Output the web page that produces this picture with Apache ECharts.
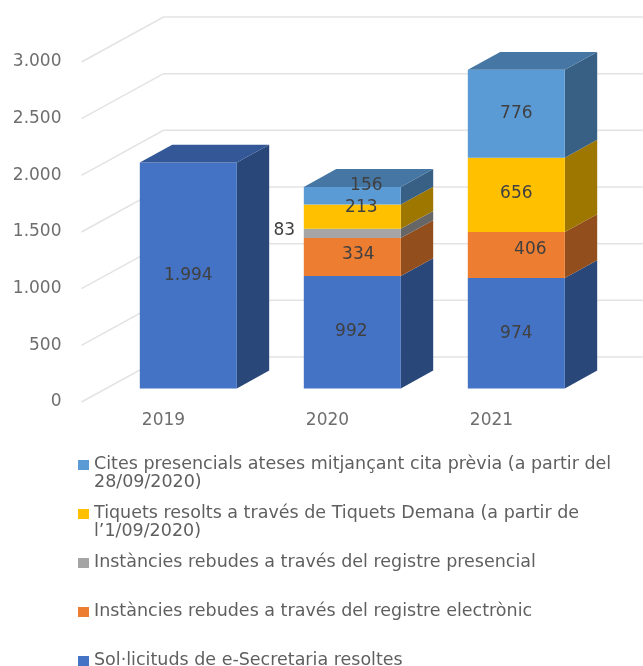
<!DOCTYPE html>
<html>
<head>
<meta charset="utf-8">
<style>
  html, body { margin: 0; padding: 0; background: #fff; }
  #chart { width: 643px; height: 666px; }
</style>
</head>
<body>
<div id="chart"></div>
<script src="https://cdn.jsdelivr.net/npm/echarts@6/dist/echarts.min.js"></script>
<script>
const years = ['2019', '2020', '2021']
const yTicks = [0, 500, 1000, 1500, 2000, 2500, 3000]

const eSecretaria = [1994, 992, 974]
const registreElectronic = [null, 334, 406]
const registrePresencial = [null, 83, null]
const tiquetsDemana = [null, 213, 656]
const citesPresencials = [null, 156, 776]

const seriesNames = [
  'Sol·licituds de e-Secretaria resoltes',
  'Instàncies rebudes a través del registre electrònic',
  'Instàncies rebudes a través del registre presencial',
  'Tiquets resolts a través de Tiquets Demana (a partir de l’1/09/2020)',
  'Cites presencials ateses mitjançant cita prèvia (a partir del 28/09/2020)',
]
const seriesValues = [eSecretaria, registreElectronic, registrePresencial, tiquetsDemana, citesPresencials]
const seriesColors = ['#4472C4', '#ED7D31', '#A5A5A5', '#FFC000', '#5B9BD5']

// fake 3D: how far the back wall sits from the front plane, in pixels
const wallX = 82
const wallY = -45
const barWidth = 97
const barDepth = 0.395

// the labels Excel moved by hand, [series, category]: [dx, dy]
const labelNudge = {
  '1,1': [6, -2],
  '2,1': [-68, -3],
  '3,1': [9, -9],
  '4,1': [14, -10],
  '1,2': [14, -5],
  '3,2': [0, -1],
  '0,1': [-1, -1],
}

function shade(hex, k) {
  const n = parseInt(hex.slice(1), 16)
  const r = Math.round((n >> 16) * k)
  const g = Math.round(((n >> 8) & 255) * k)
  const b = Math.round((n & 255) * k)
  return `rgb(${r},${g},${b})`
}

function formatThousands(v) {
  return String(v).replace(/\B(?=(\d{3})+$)/g, '.')
}

function renderGridLine(params, api) {
  const front = api.coord([0, api.value(1)])
  const left = front[0] - api.size([1, 0])[0] / 2
  const right = left + api.size([1, 0])[0] * years.length
  return {
    type: 'polyline',
    shape: {
      points: [
        [left, front[1]],
        [left + wallX, front[1] + wallY],
        [right + wallX, front[1] + wallY],
      ],
    },
    style: { fill: null, stroke: '#E3E3E3', lineWidth: 1.5 },
  }
}

function makeBarRenderer(seriesIndex) {
  const color = seriesColors[seriesIndex]
  return function (params, api) {
    const cat = api.value(0)
    const base = api.value(1)
    const value = api.value(2)
    if (!value) return null

    const band = api.size([1, 0])[0]
    const bottom = api.coord([cat, base])
    const top = api.coord([cat, base + value])
    // the bar stands in the middle of the floor, not on the front edge
    const inset = (1 - barDepth) / 2
    const x0 = bottom[0] + inset * wallX - barWidth / 2
    const x1 = x0 + barWidth
    const y0 = bottom[1] + inset * wallY
    const y1 = top[1] + inset * wallY
    const dx = barDepth * wallX
    const dy = barDepth * wallY

    const isTop = !seriesValues.slice(seriesIndex + 1).some(vals => vals[cat])
    const children = [
      {
        type: 'polygon',
        shape: { points: [[x1, y0], [x1 + dx, y0 + dy], [x1 + dx, y1 + dy], [x1, y1]] },
        style: { fill: shade(color, 0.62) },
      },
      {
        type: 'rect',
        shape: { x: x0, y: y1, width: barWidth, height: y0 - y1 },
        style: { fill: color },
      },
    ]
    if (isTop) {
      children.push({
        type: 'polygon',
        shape: { points: [[x0, y1], [x0 + dx, y1 + dy], [x1 + dx, y1 + dy], [x1, y1]] },
        style: { fill: shade(color, 0.77) },
      })
    }
    const nudge = labelNudge[seriesIndex + ',' + cat] || [0, 0]
    children.push({
      type: 'text',
      z2: 10,
      style: {
        x: (x0 + x1) / 2 + nudge[0],
        y: (y0 + y1) / 2 + nudge[1],
        text: formatThousands(value),
        align: 'center',
        verticalAlign: 'middle',
        fill: '#404040',
        font: '17px "DejaVu Sans"',
      },
    })
    return { type: 'group', children }
  }
}

const barSeries = seriesNames.map((name, s) => ({
  name,
  type: 'custom',
  itemStyle: { color: seriesColors[s] },
  renderItem: makeBarRenderer(s),
  data: years.map((y, c) => {
    let base = 0
    for (let i = 0; i < s; i++) base += seriesValues[i][c] || 0
    return [c, base, seriesValues[s][c] || 0]
  }),
}))

const myChart = echarts.init(document.getElementById('chart'))
myChart.setOption({
  animation: false,
  backgroundColor: '#fff',
  grid: { left: 81.5, top: 62, width: 492, height: 340 },
  xAxis: {
    type: 'category',
    data: years,
    axisLine: { show: false },
    axisTick: { show: false },
    axisLabel: { color: '#6E6E6E', fontFamily: 'DejaVu Sans', fontSize: 17, margin: 10 },
  },
  yAxis: {
    type: 'value',
    min: 0,
    max: 3000,
    interval: 500,
    axisLine: { show: false },
    axisTick: { show: false },
    splitLine: { show: false },
    axisLabel: {
      color: '#6E6E6E',
      fontFamily: 'DejaVu Sans',
      fontSize: 17,
      margin: 20,
      formatter: formatThousands,
    },
  },
  legend: {
    orient: 'vertical',
    left: 78,
    top: 455,
    height: 300,
    padding: 0,
    itemWidth: 11,
    itemHeight: 36,
    itemGap: 13,
    // square sits on the first text line; the two M points stretch its box to the row height
    icon: 'path://M0 0M0 5H11V15H0ZM11 36',
    data: seriesNames.slice().reverse(),
    formatter: name => {
      if (name.startsWith('Cites')) return name.replace(' 28/', '\n28/')
      if (name.startsWith('Tiquets')) return name.replace(' l’1/', '\nl’1/')
      return name + '\n '
    },
    textStyle: { color: '#5F5F5F', fontFamily: 'DejaVu Sans', fontSize: 17.5, lineHeight: 18 },
  },
  series: [
    {
      type: 'custom',
      silent: true,
      renderItem: renderGridLine,
      data: yTicks.map(v => [0, v]),
    },
    ...barSeries,
  ],
})
</script>
</body>
</html>
